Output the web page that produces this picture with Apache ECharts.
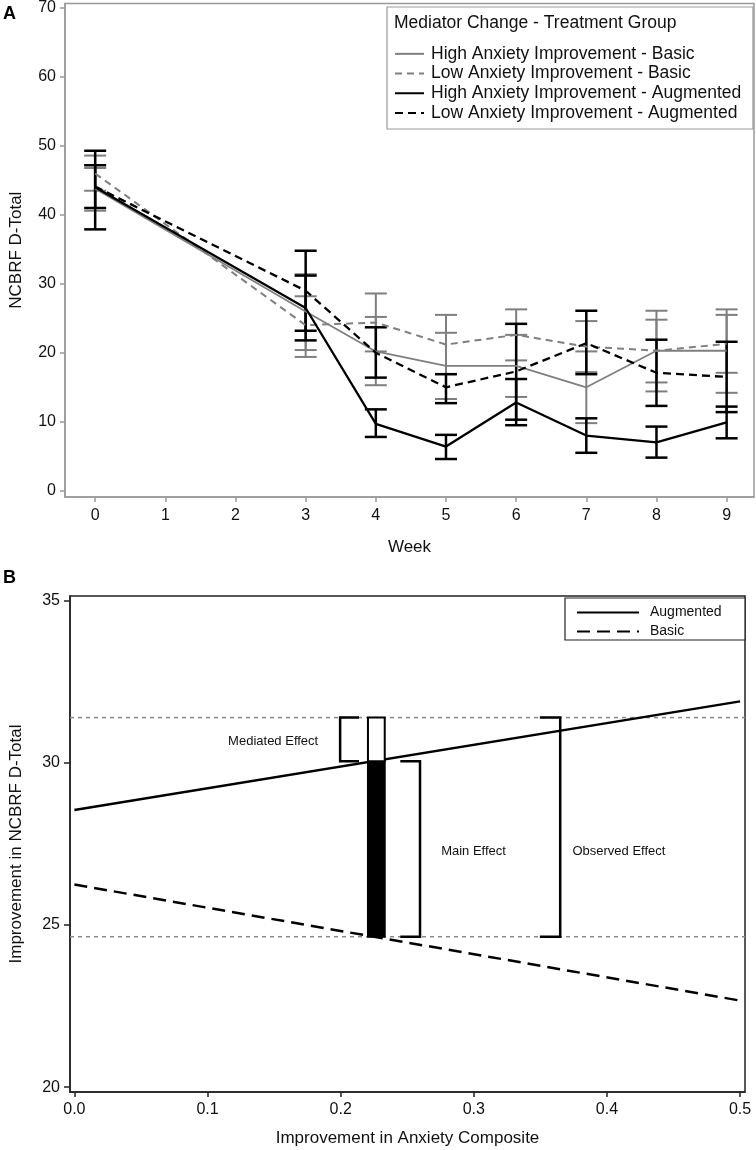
<!DOCTYPE html>
<html>
<head>
<meta charset="utf-8">
<script src="https://cdn.jsdelivr.net/npm/echarts@6/dist/echarts.min.js"></script>
<style>
html,body{margin:0;padding:0;background:#fff;}
#c{width:756px;height:1150px;}
</style>
</head>
<body>
<div id="c"></div>
<script>
// ---------- Panel A data ----------
const weeks = [0, 3, 4, 5, 6, 7, 8, 9];
const weekTicks = [0, 1, 2, 3, 4, 5, 6, 7, 8, 9];
const yTicksA = [0, 10, 20, 30, 40, 50, 60, 70];
const seriesNamesA = [
  'High Anxiety Improvement - Basic',
  'Low Anxiety Improvement - Basic',
  'High Anxiety Improvement - Augmented',
  'Low Anxiety Improvement - Augmented'
];
const highBasicMean = [43.8, 26.0, 20.2, 18.1, 18.1, 15.0, 20.3, 20.3];
const highBasicLow  = [40.6, 20.4, 15.3, 13.3, 13.6, 9.8, 14.4, 14.2];
const highBasicHigh = [46.8, 31.4, 25.2, 22.9, 22.6, 20.2, 26.1, 26.3];

const lowBasicMean = [46.0, 24.0, 24.4, 21.2, 22.6, 20.9, 20.3, 21.3];
const lowBasicLow  = [43.5, 19.4, 20.2, 16.9, 18.9, 17.2, 15.7, 17.1];
const lowBasicHigh = [48.6, 28.2, 28.6, 25.5, 26.3, 24.6, 24.8, 25.5];

const highAugMean = [44.0, 26.5, 9.7, 6.4, 12.8, 8.0, 7.0, 9.9];
const highAugLow  = [37.9, 21.8, 7.8, 4.6, 9.5, 5.5, 4.8, 7.6];
const highAugHigh = [49.3, 31.2, 11.8, 8.1, 16.2, 10.5, 9.3, 12.2];

const lowAugMean = [44.1, 29.0, 20.0, 15.0, 17.3, 21.4, 17.1, 16.5];
const lowAugLow  = [41.0, 23.2, 16.4, 12.7, 10.3, 16.9, 12.3, 11.4];
const lowAugHigh = [47.2, 34.8, 23.7, 16.9, 24.2, 26.1, 21.9, 21.6];

// ---------- Panel B data ----------
const xTicksB = [0, 0.1, 0.2, 0.3, 0.4, 0.5];
const yTicksB = [20, 25, 30, 35];
const xEndsB = [0, 0.5];
const augmentedB = [28.55, 31.9];
const basicB = [26.25, 22.67];
const refLevelsB = [31.4, 24.64];
const mainLevelB = 30.05;
const barXB = [0.2205, 0.2331];
const mediatedBracket = [0.1996, 0.2138, 30.05, 31.4];
const mainBracket = [0.2448, 0.2596, 24.64, 30.05];
const observedBracket = [0.3496, 0.3649, 24.64, 31.4];
const effectLabels = [
  [0.1493, 30.66, 'Mediated Effect'],
  [0.2998, 27.28, 'Main Effect'],
  [0.409, 27.28, 'Observed Effect']
];

// ---------- helpers ----------
const FONT = "'Liberation Sans', Arial, sans-serif";
const GRAY = '#7f7f7f';
const zip = (xs, ys) => xs.map((x, i) => [x, ys[i]]);
const zip3 = (xs, a, b) => xs.map((x, i) => [x, a[i], b[i]]);

function errRender(color, width, capHalf) {
  return function (params, api) {
    const x = api.value(0);
    const pLo = api.coord([x, api.value(1)]);
    const pHi = api.coord([x, api.value(2)]);
    const c = pLo[0];
    const st = { stroke: color, lineWidth: width };
    return {
      type: 'group',
      children: [
        { type: 'line', shape: { x1: c, y1: pLo[1], x2: c, y2: pHi[1] }, style: st },
        { type: 'line', shape: { x1: c - capHalf, y1: pLo[1], x2: c + capHalf, y2: pLo[1] }, style: st },
        { type: 'line', shape: { x1: c - capHalf, y1: pHi[1], x2: c + capHalf, y2: pHi[1] }, style: st }
      ]
    };
  };
}

function bracketRender(openRight) {
  return function (params, api) {
    const x1 = api.value(0), x2 = api.value(1), y1 = api.value(2), y2 = api.value(3);
    const a = api.coord([x1, y2]), b = api.coord([x2, y2]);
    const c = api.coord([x1, y1]), d = api.coord([x2, y1]);
    const pts = openRight ? [b, a, c, d] : [a, b, d, c];
    return { type: 'polyline', shape: { points: pts }, style: { stroke: '#000', lineWidth: 2.5, fill: null } };
  };
}

const chart = echarts.init(document.getElementById('c'), null, { renderer: 'canvas' });

const xMinA = -0.43, xMaxA = 9.39, yMinA = -0.91, yMaxA = 70.67;
const xMinB = -0.0033, xMaxB = 0.5037, yMinB = 19.85, yMaxB = 35.15;

const option = {
  backgroundColor: '#fff',
  animation: false,
  textStyle: { fontFamily: FONT },
  grid: [
    { left: 63, top: 3, width: 691, height: 494, show: true, borderColor: '#999', borderWidth: 1.5, backgroundColor: 'transparent' },
    { left: 63, top: 596, width: 682, height: 496, show: true, borderColor: '#222', borderWidth: 1.5, backgroundColor: 'transparent' }
  ],
  xAxis: [
    {
      gridIndex: 0, type: 'value', min: xMinA, max: xMaxA,
      name: 'Week', nameLocation: 'middle', nameGap: 42,
      nameTextStyle: { fontSize: 17, color: '#111', fontFamily: FONT },
      axisLine: { show: true, onZero: false, lineStyle: { color: '#999', width: 1.5 } },
      axisTick: { show: true, length: 5, lineStyle: { color: '#999', width: 1.5 }, customValues: weekTicks },
      axisLabel: { fontSize: 16, color: '#111', margin: 11, fontFamily: FONT, customValues: weekTicks },
      splitLine: { show: false }
    },
    {
      gridIndex: 1, type: 'value', min: xMinB, max: xMaxB,
      name: 'Improvement in Anxiety Composite', nameLocation: 'middle', nameGap: 38,
      nameTextStyle: { fontSize: 17, color: '#111', fontFamily: FONT },
      axisLine: { show: true, onZero: false, lineStyle: { color: '#222', width: 1.5 } },
      axisTick: { show: true, length: 5, lineStyle: { color: '#222', width: 1.5 }, customValues: xTicksB },
      axisLabel: { fontSize: 16, color: '#111', margin: 10, fontFamily: FONT, customValues: xTicksB, formatter: v => v.toFixed(1) },
      splitLine: { show: false }
    }
  ],
  yAxis: [
    {
      gridIndex: 0, type: 'value', min: yMinA, max: yMaxA,
      name: 'NCBRF D-Total', nameLocation: 'middle', nameGap: 40, nameRotate: 90,
      nameTextStyle: { fontSize: 17, color: '#111', fontFamily: FONT },
      axisLine: { show: true, onZero: false, lineStyle: { color: '#999', width: 1.5 } },
      axisTick: { show: true, length: 5, lineStyle: { color: '#999', width: 1.5 }, customValues: yTicksA },
      axisLabel: { fontSize: 16, color: '#111', margin: 9, fontFamily: FONT, customValues: yTicksA },
      splitLine: { show: false }
    },
    {
      gridIndex: 1, type: 'value', min: yMinB, max: yMaxB,
      name: 'Improvement in NCBRF D-Total', nameLocation: 'middle', nameGap: 45, nameRotate: 90,
      nameTextStyle: { fontSize: 17, color: '#111', fontFamily: FONT },
      axisLine: { show: true, onZero: false, lineStyle: { color: '#222', width: 1.5 } },
      axisTick: { show: true, length: 6, lineStyle: { color: '#222', width: 1.5 }, customValues: yTicksB },
      axisLabel: { fontSize: 16, color: '#111', margin: 10, fontFamily: FONT, customValues: yTicksB },
      splitLine: { show: false }
    }
  ],
  legend: [
    {
      data: seriesNamesA, orient: 'vertical', left: 394, top: 44, padding: 0,
      itemWidth: 29, itemHeight: 12, itemGap: 0, selectedMode: false,
      itemStyle: { opacity: 0, borderWidth: 0 },
      textStyle: { fontSize: 17.5, color: '#111', fontFamily: FONT, lineHeight: 19.7, padding: [0, 0, 0, 2] }
    },
    {
      data: ['Augmented', 'Basic'], orient: 'vertical', left: 576, top: 604, padding: 0,
      itemWidth: 62, itemHeight: 10, itemGap: 2, selectedMode: false,
      itemStyle: { opacity: 0, borderWidth: 0 },
      textStyle: { fontSize: 14, color: '#111', fontFamily: FONT, lineHeight: 17, padding: [0, 0, 0, 6] }
    }
  ],
  graphic: [
    { type: 'rect', shape: { x: 387, y: 7, width: 366, height: 122 }, style: { fill: 'none', stroke: '#999', lineWidth: 1.2 }, z: 5 },
    { type: 'text', x: 394, y: 23, style: { text: 'Mediator Change - Treatment Group', font: "17.5px 'Liberation Sans', Arial", fill: '#111', verticalAlign: 'middle' }, z: 6 },
    { type: 'rect', shape: { x: 565, y: 598, width: 180, height: 42 }, style: { fill: '#fff', stroke: '#222', lineWidth: 1.2 }, z: 1 },
    { type: 'text', x: 3, y: 14, style: { text: 'A', font: "bold 18px 'Liberation Sans', Arial", fill: '#000', verticalAlign: 'middle' } },
    { type: 'text', x: 3, y: 578, style: { text: 'B', font: "bold 18px 'Liberation Sans', Arial", fill: '#000', verticalAlign: 'middle' } }
  ],
  series: [
    // Panel A error bars
    { type: 'custom', xAxisIndex: 0, yAxisIndex: 0, renderItem: errRender(GRAY, 2, 11), data: zip3(weeks, highBasicLow, highBasicHigh), encode: { x: 0, y: [1, 2] }, z: 2 },
    { type: 'custom', xAxisIndex: 0, yAxisIndex: 0, renderItem: errRender(GRAY, 2, 11), data: zip3(weeks, lowBasicLow, lowBasicHigh), encode: { x: 0, y: [1, 2] }, z: 2 },
    { type: 'custom', xAxisIndex: 0, yAxisIndex: 0, renderItem: errRender('#000', 2.5, 11), data: zip3(weeks, highAugLow, highAugHigh), encode: { x: 0, y: [1, 2] }, z: 3 },
    { type: 'custom', xAxisIndex: 0, yAxisIndex: 0, renderItem: errRender('#000', 2.5, 11), data: zip3(weeks, lowAugLow, lowAugHigh), encode: { x: 0, y: [1, 2] }, z: 3 },
    // Panel A lines
    { name: seriesNamesA[0], type: 'line', xAxisIndex: 0, yAxisIndex: 0, data: zip(weeks, highBasicMean), symbol: 'none', lineStyle: { color: GRAY, width: 1.8, type: 'solid' }, itemStyle: { color: GRAY }, z: 4 },
    { name: seriesNamesA[1], type: 'line', xAxisIndex: 0, yAxisIndex: 0, data: zip(weeks, lowBasicMean), symbol: 'none', lineStyle: { color: GRAY, width: 2, type: [7, 5] }, itemStyle: { color: GRAY }, z: 4 },
    { name: seriesNamesA[2], type: 'line', xAxisIndex: 0, yAxisIndex: 0, data: zip(weeks, highAugMean), symbol: 'none', lineStyle: { color: '#000', width: 2.3, type: 'solid' }, itemStyle: { color: '#000' }, z: 5 },
    { name: seriesNamesA[3], type: 'line', xAxisIndex: 0, yAxisIndex: 0, data: zip(weeks, lowAugMean), symbol: 'none', lineStyle: { color: '#000', width: 2.3, type: [8, 5] }, itemStyle: { color: '#000' }, z: 5 },

    // Panel B reference dotted lines
    { type: 'line', xAxisIndex: 1, yAxisIndex: 1, data: [[xMinB, refLevelsB[0]], [xMaxB, refLevelsB[0]]], symbol: 'none', silent: true, lineStyle: { color: '#888', width: 1.5, type: [4, 4] }, z: 2 },
    { type: 'line', xAxisIndex: 1, yAxisIndex: 1, data: [[xMinB, refLevelsB[1]], [xMaxB, refLevelsB[1]]], symbol: 'none', silent: true, lineStyle: { color: '#888', width: 1.5, type: [4, 4] }, z: 2 },
    // Panel B regression lines
    { name: 'Augmented', type: 'line', xAxisIndex: 1, yAxisIndex: 1, data: zip(xEndsB, augmentedB), symbol: 'none', lineStyle: { color: '#000', width: 2.5, type: 'solid' }, itemStyle: { color: '#000' }, z: 4 },
    { name: 'Basic', type: 'line', xAxisIndex: 1, yAxisIndex: 1, data: zip(xEndsB, basicB), symbol: 'none', lineStyle: { color: '#000', width: 2.5, type: [13, 7] }, itemStyle: { color: '#000' }, z: 4 },
    // Panel B bar: filled main part + open mediated part
    {
      type: 'custom', xAxisIndex: 1, yAxisIndex: 1, z: 5,
      data: [[barXB[0], barXB[1], refLevelsB[1], mainLevelB, 1], [barXB[0], barXB[1], mainLevelB, refLevelsB[0], 0]],
      encode: { x: [0, 1], y: [2, 3] },
      renderItem: function (params, api) {
        const p1 = api.coord([api.value(0), api.value(3)]);
        const p2 = api.coord([api.value(1), api.value(2)]);
        const filled = api.value(4) === 1;
        return {
          type: 'rect',
          shape: { x: p1[0], y: p1[1], width: p2[0] - p1[0], height: p2[1] - p1[1] },
          style: { fill: filled ? '#000' : '#fff', stroke: '#000', lineWidth: 2 }
        };
      }
    },
    // Panel B brackets
    { type: 'custom', xAxisIndex: 1, yAxisIndex: 1, z: 5, data: [mediatedBracket], encode: { x: [0, 1], y: [2, 3] }, renderItem: bracketRender(true) },
    { type: 'custom', xAxisIndex: 1, yAxisIndex: 1, z: 5, data: [mainBracket, observedBracket], encode: { x: [0, 1], y: [2, 3] }, renderItem: bracketRender(false) },
    // Panel B labels
    {
      type: 'custom', xAxisIndex: 1, yAxisIndex: 1, z: 6, data: effectLabels, encode: { x: 0, y: 1 },
      renderItem: function (params, api) {
        const p = api.coord([api.value(0), api.value(1)]);
        return { type: 'text', x: p[0], y: p[1], style: { text: effectLabels[params.dataIndex][2], font: "13px 'Liberation Sans', Arial", fill: '#111', align: 'center', verticalAlign: 'middle' } };
      }
    }
  ]
};
chart.setOption(option);
</script>
</body>
</html>
